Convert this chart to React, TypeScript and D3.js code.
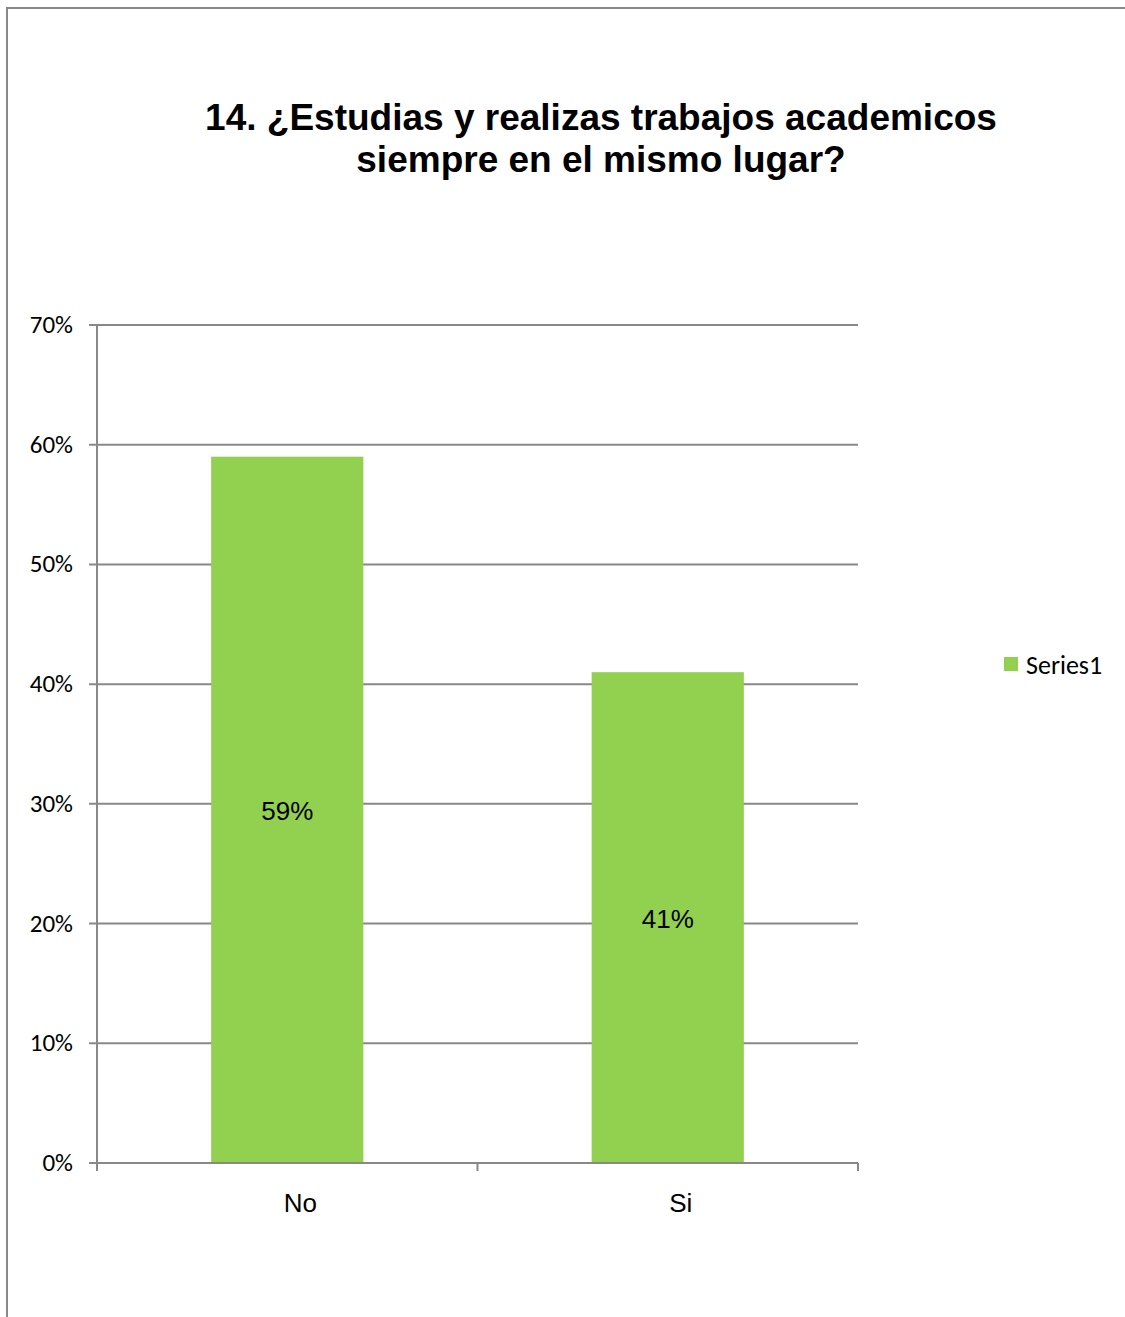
import React from "react";
import * as d3 from "d3";

const categories = ["No", "Si"];
const values = [0.59, 0.41];
const yTicks = [0, 0.1, 0.2, 0.3, 0.4, 0.5, 0.6, 0.7];
const titleLines = ["14. ¿Estudias y realizas trabajos academicos", "siempre en el mismo lugar?"];
const seriesName = "Series1";

export default function App() {
  const W = 1125, H = 1317;
  const left = 97, right = 858, top = 325, bottom = 1163;
  const x = d3.scaleBand<string>().domain(categories).range([left, right]).paddingInner(0.6).paddingOuter(0.3);
  const xb = d3.scaleBand<string>().domain(categories).range([left, right]);
  const y = d3.scaleLinear().domain([0, 0.7]).range([bottom, top]);
  const axisColor = "#888888";
  const fmt = d3.format(".0%");
  const barColor = "#92D050";
  const calibri = "Carlito, Lato, 'Open Sans', sans-serif";
  const arial = "'Liberation Sans', Arial, sans-serif";
  return (
    <svg width={W} height={H} style={{ position: "absolute", left: 0, top: 0, background: "#fff" }}>
      <rect x={7} y={8} width={W + 20} height={H + 20} fill="#fff" stroke={axisColor} strokeWidth={2} />
      {titleLines.map((t, i) => (
        <text key={i} x={601} y={130 + i * 42} textAnchor="middle" fontFamily={arial} fontWeight="bold" fontSize={37} fill="#000">{t}</text>
      ))}
      {yTicks.map((t) => (
        <g key={t}>
          <line x1={89} x2={right} y1={y(t)} y2={y(t)} stroke={axisColor} strokeWidth={2} />
          <text x={73} y={y(t) + 8} textAnchor="end" fontFamily={calibri} fontSize={25} fill="#000">{fmt(t)}</text>
        </g>
      ))}
      {categories.map((c, i) => (
        <rect key={c} x={x(c)} y={y(values[i])} width={x.bandwidth()} height={bottom - y(values[i])} fill={barColor} />
      ))}
      <line x1={left} x2={left} y1={top} y2={bottom + 8} stroke={axisColor} strokeWidth={2} />
      <line x1={left} x2={right} y1={bottom} y2={bottom} stroke={axisColor} strokeWidth={2} />
      {[left, left + xb.bandwidth(), right].map((v, i) => (
        <line key={i} x1={v} x2={v} y1={bottom} y2={bottom + 8} stroke={axisColor} strokeWidth={2} />
      ))}
      {categories.map((c, i) => (
        <text key={c} x={(xb(c) as number) + xb.bandwidth() / 2 + 13} y={1212} textAnchor="middle" fontFamily={arial} fontSize={26} fill="#000">{c}</text>
      ))}
      {categories.map((c, i) => (
        <text key={c} x={(x(c) as number) + x.bandwidth() / 2} y={(y(values[i]) + bottom) / 2 + 10} textAnchor="middle" fontFamily={arial} fontSize={26} fill="#000">{fmt(values[i])}</text>
      ))}
      <rect x={1004} y={657} width={14} height={14} fill={barColor} />
      <text x={1026} y={674} fontFamily={calibri} fontSize={26} fill="#000">{seriesName}</text>
    </svg>
  );
}
